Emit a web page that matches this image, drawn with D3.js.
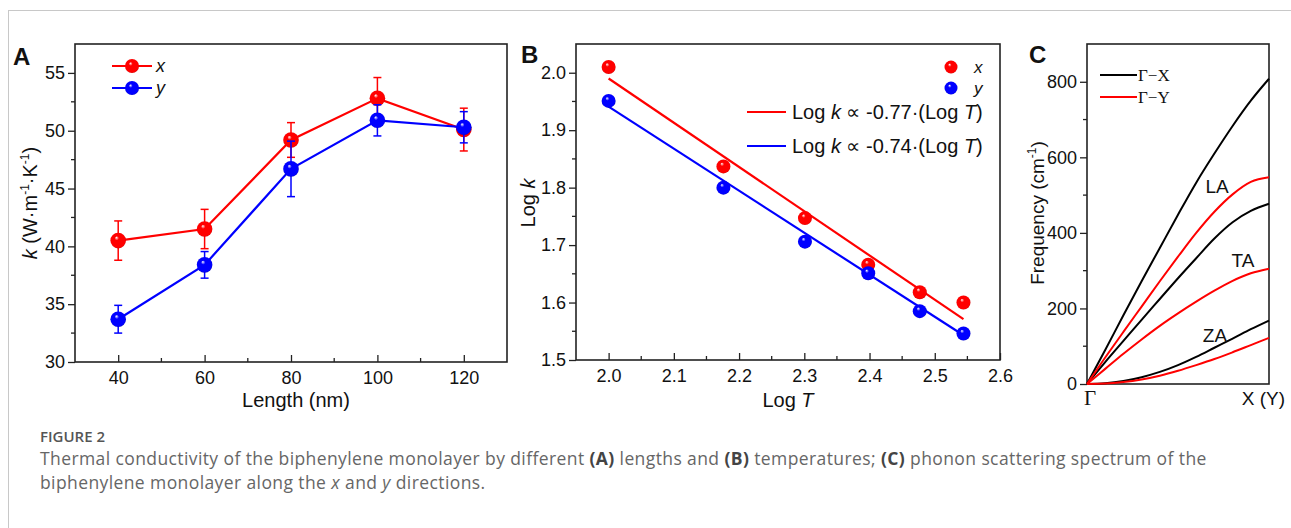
<!DOCTYPE html>
<html>
<head>
<meta charset="utf-8">
<script src="https://cdnjs.cloudflare.com/ajax/libs/d3/7.8.5/d3.min.js"></script>
<style>
  body { margin: 0; background: #fff; }
  svg text { font-family: "Liberation Sans", Arial, sans-serif; fill: #111; }
  .cap { font-family: "Open Sans", sans-serif; }
</style>
</head>
<body>
<svg id="fig" width="1291" height="528"></svg>
<script>

// panel A data: thermal conductivity vs length
var lengths = [40, 60, 80, 100, 120];
var k_x = [40.5, 41.5, 49.2, 52.8, 50.1];
var k_x_err = [1.7, 1.7, 1.5, 1.8, 1.85];
var k_y = [33.7, 38.4, 46.7, 50.9, 50.3];
var k_y_err = [1.2, 1.15, 2.4, 1.35, 1.35];

// panel B data: log k vs log T
var log_T = [2.0, 2.176, 2.301, 2.398, 2.477, 2.544];
var logk_x = [2.010, 1.837, 1.747, 1.666, 1.618, 1.600];
var logk_y = [1.951, 1.800, 1.706, 1.651, 1.585, 1.546];
var fit_x = [[2.0, 1.990], [2.544, 1.571]];
var fit_y = [[2.0, 1.941], [2.544, 1.543]];

// panel C data: phonon branches, fraction of path Gamma -> X (Y)
var q_frac = [0, 0.1, 0.2, 0.3, 0.4, 0.5, 0.6, 0.7, 0.8, 0.9, 1.0];
var la_gx = [0, 90, 182, 272, 360, 448, 533, 610, 683, 750, 808];
var la_gy = [0, 70, 138, 205, 272, 337, 400, 456, 502, 535, 547];
var ta_gx = [0, 58, 114, 170, 225, 280, 333, 385, 428, 458, 477];
var ta_gy = [0, 40, 80, 118, 154, 187, 218, 247, 273, 293, 305];
var za_gx = [0, 2, 8, 18, 32, 50, 72, 96, 120, 145, 168];
var za_gy = [0, 1, 5, 12, 22, 35, 50, 66, 84, 103, 122];

var ticks_A_x = [40, 60, 80, 100, 120];
var ticks_A_y = [30, 35, 40, 45, 50, 55];
var ticks_B_x = [2.0, 2.1, 2.2, 2.3, 2.4, 2.5, 2.6];
var ticks_B_y = [1.5, 1.6, 1.7, 1.8, 1.9, 2.0];
var ticks_C_y = [0, 200, 400, 600, 800];

var RED = '#ff0000';
var BLUE = '#0000ff';

var svg = d3.select('#fig');

// page frame lines
svg.append('line').attr('x1', 8).attr('x2', 1291).attr('y1', 10.5).attr('y2', 10.5)
  .attr('stroke', '#c8c8c8').attr('stroke-width', 1);
svg.append('line').attr('x1', 8.5).attr('x2', 8.5).attr('y1', 10).attr('y2', 528)
  .attr('stroke', '#c8c8c8').attr('stroke-width', 1);

// sphere gradients for markers
var defs = svg.append('defs');
function make_grad(id, base, dark){
  var g = defs.append('radialGradient').attr('id', id)
    .attr('cx', '50%').attr('cy', '50%').attr('r', '55%')
    .attr('fx', '38%').attr('fy', '30%');
  g.append('stop').attr('offset', '0%').attr('stop-color', '#ffffff');
  g.append('stop').attr('offset', '25%').attr('stop-color', base);
  g.append('stop').attr('offset', '85%').attr('stop-color', base);
  g.append('stop').attr('offset', '100%').attr('stop-color', dark);
}
make_grad('g_red', RED, '#b00000');
make_grad('g_blue', BLUE, '#0000a0');

function sphere(g, cx, cy, r, id){
  g.append('circle').attr('cx', cx).attr('cy', cy).attr('r', r)
    .attr('fill', 'url(#' + id + ')');
}

// frame + axes helper
function draw_frame(g, x, y, opt){
  var x0 = x.range()[0], x1 = x.range()[1];
  var y0 = y.range()[0], y1 = y.range()[1];

  // y axis ticks outward
  var ya = g.append('g').attr('transform', 'translate(' + x0 + ',0)');
  ya.call(d3.axisLeft(y).tickValues(opt.y_ticks).tickSize(7).tickPadding(3)
    .tickFormat(opt.y_fmt));
  ya.select('.domain').remove();
  ya.selectAll('text').style('font-size', '18px');
  ya.selectAll('line').attr('stroke', '#222').attr('stroke-width', 1.3);
  if (opt.y_minor){
    ya.selectAll('.minor').data(opt.y_minor).enter().append('line')
      .attr('x1', -4).attr('x2', 0)
      .attr('y1', function(d){ return y(d); }).attr('y2', function(d){ return y(d); })
      .attr('stroke', '#222').attr('stroke-width', 1.3);
  }

  // x axis ticks inward
  if (opt.x_ticks){
    var xa = g.append('g').attr('transform', 'translate(0,' + y0 + ')');
    xa.call(d3.axisBottom(x).tickValues(opt.x_ticks).tickSize(-7).tickPadding(9)
      .tickFormat(opt.x_fmt));
    xa.select('.domain').remove();
    xa.selectAll('text').style('font-size', '18px');
    xa.selectAll('line').attr('stroke', '#222').attr('stroke-width', 1.3);
    if (opt.x_minor){
      xa.selectAll('.minor').data(opt.x_minor).enter().append('line')
        .attr('y1', -4).attr('y2', 0)
        .attr('x1', function(d){ return x(d); }).attr('x2', function(d){ return x(d); })
        .attr('stroke', '#222').attr('stroke-width', 1.3);
    }
  }

  g.append('rect').attr('x', x0).attr('y', y1)
    .attr('width', x1 - x0).attr('height', y0 - y1)
    .attr('fill', 'none').attr('stroke', '#222').attr('stroke-width', 1.6);
}

// ---------------- panel A ----------------
var gA = svg.append('g');
var xA = d3.scaleLinear().domain([30, 130]).range([75, 507]);
var yA = d3.scaleLinear().domain([30, 57.5]).range([362, 44]);

draw_frame(gA, xA, yA, {
  y_ticks: ticks_A_y, y_fmt: d3.format('d'),
  y_minor: [32.5, 37.5, 42.5, 47.5, 52.5],
  x_ticks: ticks_A_x, x_fmt: d3.format('d'),
  x_minor: [50, 70, 90, 110]
});

var lineA = d3.line().x(function(d){ return xA(d[0]); }).y(function(d){ return yA(d[1]); });

function draw_series_A(vals, errs, color, grad){
  var pts = lengths.map(function(l, i){ return [l, vals[i], errs[i]]; });
  gA.append('path').datum(pts).attr('d', lineA)
    .attr('fill', 'none').attr('stroke', color).attr('stroke-width', 2.2);
  pts.forEach(function(p){
    var cx = xA(p[0]);
    gA.append('line').attr('x1', cx).attr('x2', cx)
      .attr('y1', yA(p[1] - p[2])).attr('y2', yA(p[1] + p[2]))
      .attr('stroke', color).attr('stroke-width', 1.5);
    [p[1] - p[2], p[1] + p[2]].forEach(function(v){
      gA.append('line').attr('x1', cx - 4).attr('x2', cx + 4)
        .attr('y1', yA(v)).attr('y2', yA(v))
        .attr('stroke', color).attr('stroke-width', 1.5);
    });
  });
  pts.forEach(function(p){ sphere(gA, xA(p[0]), yA(p[1]), 7.8, grad); });
}
draw_series_A(k_x, k_x_err, RED, 'g_red');
draw_series_A(k_y, k_y_err, BLUE, 'g_blue');

// legend A
[[66, RED, 'g_red', 'x'], [88, BLUE, 'g_blue', 'y']].forEach(function(l){
  gA.append('line').attr('x1', 112).attr('x2', 152).attr('y1', l[0]).attr('y2', l[0])
    .attr('stroke', l[1]).attr('stroke-width', 2.2);
  sphere(gA, 132, l[0], 7, l[2]);
  gA.append('text').attr('x', 156).attr('y', l[0] + 6)
    .style('font-size', '18px').style('font-style', 'italic').text(l[3]);
});

gA.append('text').attr('x', 296).attr('y', 407).attr('text-anchor', 'middle')
  .style('font-size', '20px').text('Length (nm)');

var ylabA = gA.append('text').attr('transform', 'translate(37,203) rotate(-90)')
  .attr('text-anchor', 'middle').style('font-size', '20px');
ylabA.append('tspan').style('font-style', 'italic').text('k');
ylabA.append('tspan').text(' (W·m');
ylabA.append('tspan').attr('dy', -8).style('font-size', '12px').text('-1');
ylabA.append('tspan').attr('dy', 8).text('·K');
ylabA.append('tspan').attr('dy', -8).style('font-size', '12px').text('-1');
ylabA.append('tspan').attr('dy', 8).text(')');

svg.append('text').attr('x', 13).attr('y', 65).style('font-size', '24px')
  .style('font-weight', 'bold').text('A');

// ---------------- panel B ----------------
var gB = svg.append('g');
var xB = d3.scaleLinear().domain([1.95, 2.6]).range([576, 1000]);
var yB = d3.scaleLinear().domain([1.5, 2.05]).range([360, 44]);

draw_frame(gB, xB, yB, {
  y_ticks: ticks_B_y, y_fmt: d3.format('.1f'),
  y_minor: [1.55, 1.65, 1.75, 1.85, 1.95],
  x_ticks: ticks_B_x, x_fmt: d3.format('.1f'),
  x_minor: [2.05, 2.15, 2.25, 2.35, 2.45, 2.55]
});

var lineB = d3.line().x(function(d){ return xB(d[0]); }).y(function(d){ return yB(d[1]); });
gB.append('path').datum(fit_x).attr('d', lineB).attr('stroke', RED)
  .attr('stroke-width', 2.2).attr('fill', 'none');
gB.append('path').datum(fit_y).attr('d', lineB).attr('stroke', BLUE)
  .attr('stroke-width', 2.2).attr('fill', 'none');

log_T.forEach(function(t, i){
  sphere(gB, xB(t), yB(logk_x[i]), 7, 'g_red');
  sphere(gB, xB(t), yB(logk_y[i]), 7, 'g_blue');
});

// legend B
sphere(gB, 951, 67, 6.5, 'g_red');
sphere(gB, 951, 88, 6.5, 'g_blue');
gB.append('text').attr('x', 974).attr('y', 73).style('font-size', '17px')
  .style('font-style', 'italic').text('x');
gB.append('text').attr('x', 974).attr('y', 94).style('font-size', '17px')
  .style('font-style', 'italic').text('y');

[[112, RED, '-0.77'], [146, BLUE, '-0.74']].forEach(function(l){
  gB.append('line').attr('x1', 747).attr('x2', 786).attr('y1', l[0]).attr('y2', l[0])
    .attr('stroke', l[1]).attr('stroke-width', 2.2);
  var t = gB.append('text').attr('x', 792).attr('y', l[0] + 7).style('font-size', '20px');
  t.append('tspan').text('Log ');
  t.append('tspan').style('font-style', 'italic').text('k');
  t.append('tspan').text(' \u221D ' + l[2] + '·(Log ');
  t.append('tspan').style('font-style', 'italic').text('T');
  t.append('tspan').text(')');
});

var xlabB = gB.append('text').attr('x', 788).attr('y', 407).attr('text-anchor', 'middle')
  .style('font-size', '20px');
xlabB.append('tspan').text('Log ');
xlabB.append('tspan').style('font-style', 'italic').text('T');

var ylabB = gB.append('text').attr('transform', 'translate(535,203) rotate(-90)')
  .attr('text-anchor', 'middle').style('font-size', '20px');
ylabB.append('tspan').text('Log ');
ylabB.append('tspan').style('font-style', 'italic').text('k');

svg.append('text').attr('x', 521).attr('y', 63).style('font-size', '24px')
  .style('font-weight', 'bold').text('B');

// ---------------- panel C ----------------
var gC = svg.append('g');
var xC = d3.scaleLinear().domain([0, 1]).range([1087, 1269]);
var yC = d3.scaleLinear().domain([0, 900]).range([384, 44]);

draw_frame(gC, xC, yC, {
  y_ticks: ticks_C_y, y_fmt: d3.format('d'),
  y_minor: [100, 300, 500, 700]
});

var lineC = d3.line().curve(d3.curveMonotoneX)
  .x(function(d){ return xC(d[0]); }).y(function(d){ return yC(d[1]); });

var branches = [
  [la_gx, '#000'], [ta_gx, '#000'], [za_gx, '#000'],
  [la_gy, RED], [ta_gy, RED], [za_gy, RED]
];
branches.forEach(function(b){
  var pts = q_frac.map(function(q, i){ return [q, b[0][i]]; });
  gC.append('path').datum(pts).attr('d', lineC).attr('fill', 'none')
    .attr('stroke', b[1]).attr('stroke-width', 2);
});

[['LA', 1217, 193], ['TA', 1243, 267], ['ZA', 1215, 342]].forEach(function(l){
  gC.append('text').attr('x', l[1]).attr('y', l[2]).attr('text-anchor', 'middle')
    .style('font-size', '19px').text(l[0]);
});

// legend C
[[75, '#000', '\u0393\u2212X'], [97, RED, '\u0393\u2212Y']].forEach(function(l){
  gC.append('line').attr('x1', 1100).attr('x2', 1137).attr('y1', l[0]).attr('y2', l[0])
    .attr('stroke', l[1]).attr('stroke-width', 2);
  gC.append('text').attr('x', 1138).attr('y', l[0] + 6)
    .style('font-family', '"Liberation Serif", "DejaVu Serif", serif')
    .style('font-size', '17px').text(l[2]);
});

gC.append('text').attr('x', 1090).attr('y', 405).attr('text-anchor', 'middle')
  .style('font-family', '"Liberation Serif", "DejaVu Serif", serif')
  .style('font-size', '21px').text('\u0393');
gC.append('text').attr('x', 1285).attr('y', 405).attr('text-anchor', 'end')
  .style('font-size', '19px').text('X (Y)');

var ylabC = gC.append('text').attr('transform', 'translate(1044,213) rotate(-90)')
  .attr('text-anchor', 'middle').style('font-size', '19px');
ylabC.append('tspan').text('Frequency (cm');
ylabC.append('tspan').attr('dy', -8).style('font-size', '12px').text('-1');
ylabC.append('tspan').attr('dy', 8).text(')');

svg.append('text').attr('x', 1029).attr('y', 63).style('font-size', '24px')
  .style('font-weight', 'bold').text('C');

// ---------------- caption ----------------
var cap = svg.append('g').attr('class', 'cap');
cap.append('text').attr('x', 40).attr('y', 442).attr('class', 'cap')
  .style('font-size', '15px').style('font-weight', 600).style('fill', '#555')
  .text('FIGURE 2');

var cap1 = cap.append('text').attr('x', 40).attr('y', 465).attr('class', 'cap')
  .style('font-size', '17.5px').style('letter-spacing', '0.4px').style('fill', '#666');
cap1.append('tspan').text('Thermal conductivity of the biphenylene monolayer by different ');
cap1.append('tspan').style('font-weight', 'bold').style('fill', '#444').text('(A)');
cap1.append('tspan').text(' lengths and ');
cap1.append('tspan').style('font-weight', 'bold').style('fill', '#444').text('(B)');
cap1.append('tspan').text(' temperatures; ');
cap1.append('tspan').style('font-weight', 'bold').style('fill', '#444').text('(C)');
cap1.append('tspan').text(' phonon scattering spectrum of the');

var cap2 = cap.append('text').attr('x', 40).attr('y', 489).attr('class', 'cap')
  .style('font-size', '17.5px').style('letter-spacing', '0.4px').style('fill', '#666');
cap2.append('tspan').text('biphenylene monolayer along the ');
cap2.append('tspan').style('font-style', 'italic').text('x');
cap2.append('tspan').text(' and ');
cap2.append('tspan').style('font-style', 'italic').text('y');
cap2.append('tspan').text(' directions.');

</script>
</body>
</html>
